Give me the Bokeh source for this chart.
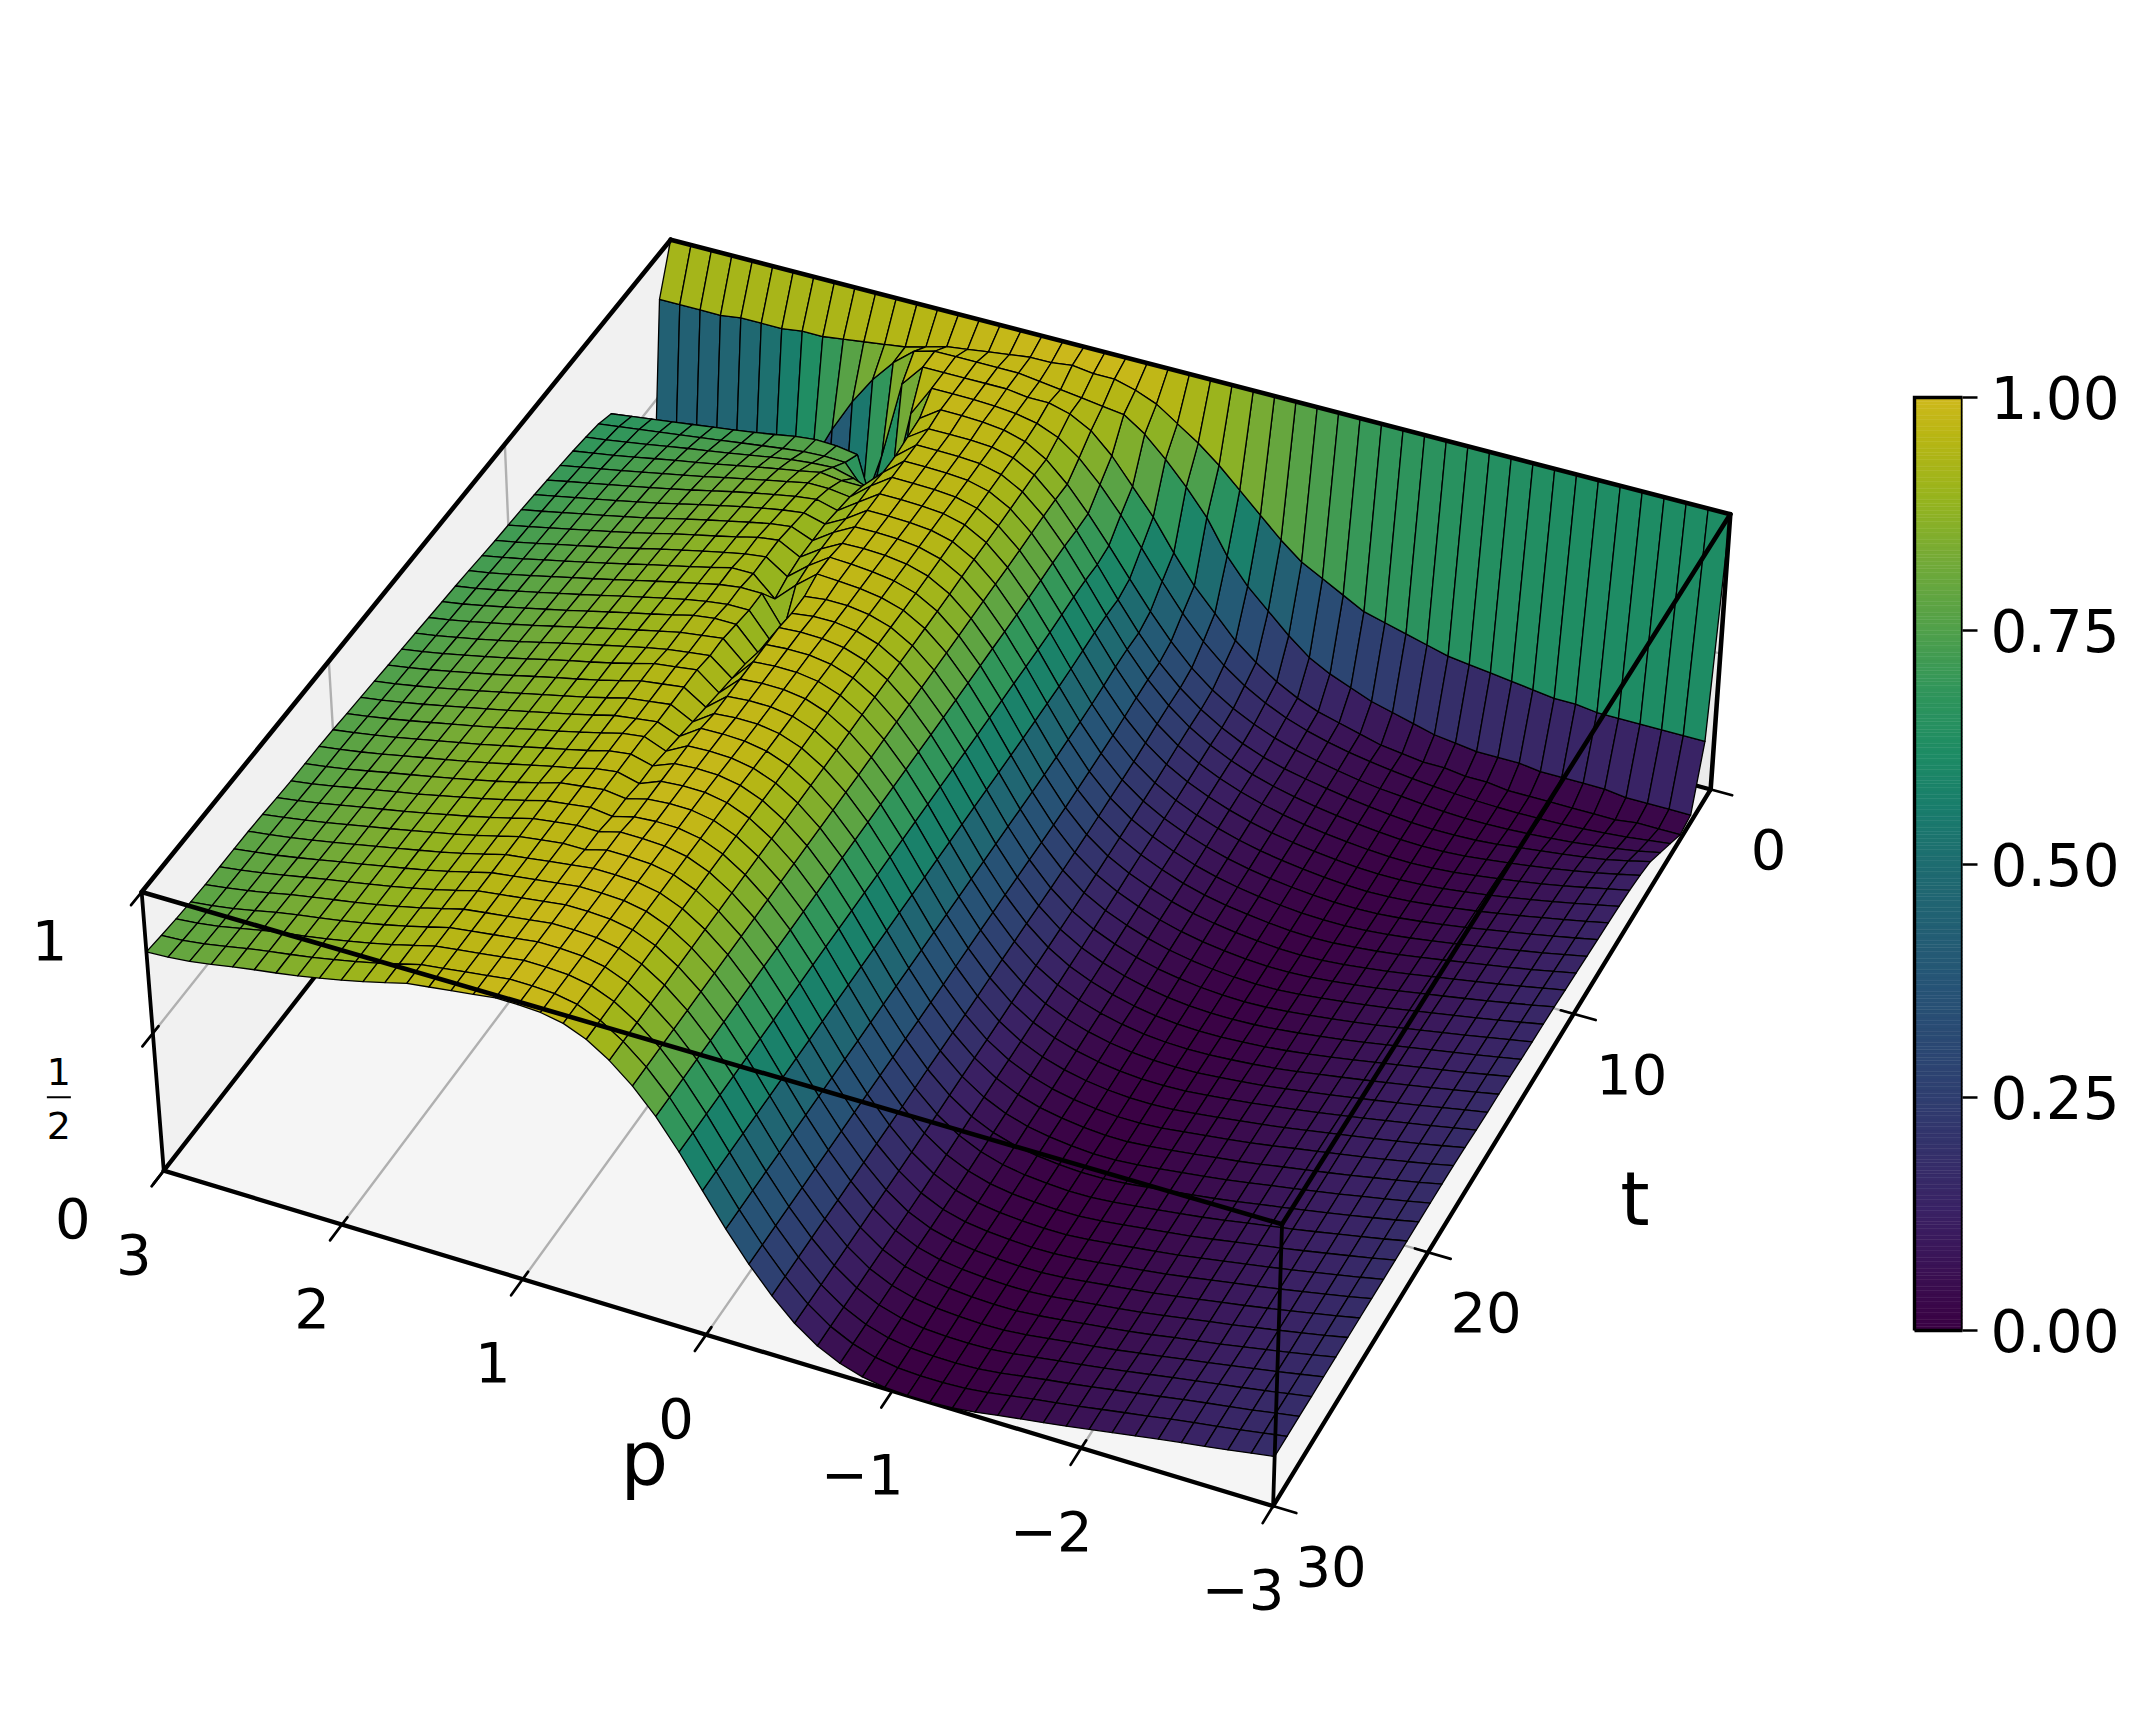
import numpy as np
from bokeh.plotting import figure
from bokeh.models import Range1d, FixedTicker, PrintfTickFormatter, LinearAxis
from bokeh.core.properties import value
from bokeh.embed import file_html
from bokeh.resources import INLINE

# axes
P_TICKS = [3, 2, 1, 0, -1, -2, -3]
P_LABELS = ["3", "2", "1", "0", "\u22121", "\u22122", "\u22123"]
T_TICKS = [0, 10, 20, 30]
Z_TICKS = [1, 0.5, 0]
CB_TICKS = [0, 0.25, 0.5, 0.75, 1]
# probability surface, in hundredths; rows are t, columns run p = 3 ... -3
R3 = [98,98,98,97,97,95,91,84,75,66,55,45,37,29,23,18,14,11,9,7,5,4,3,3,2,2,1,1,1,1,1,1,2,2,2]
R_LATE = [99,99,99,98,95,89,83,75,64,52,40,30,21,13,7,4,2,1,1,0,0,1,2,3,4,5,6,8,9,10,12,13,15,16,18]
R_END = [99,99,99,98,95,89,83,75,64,52,40,30,21,13,7,4,1,0,0,0,0,1,3,4,5,6,8,9,10,12,13,14,15,17,18]
Z_PCT = [
 [100]*51,
 [84,84,84,84,85,85,85,86,86,87,88,89,90,92,94,95,96,97,98,98,99,98,98,96,93,88,83,77,70,63,56,50,46,42,38,36,34,32,30,29,28,27,26,25,25,24,24,24,24,24,24],
 [3,3,4,5,8,14,22,33,46,60,72,82,90,96,98,98,98,98,98,97,96,95,94,93,88,81,73,64,52,43,36,29,23,19,16,13,11,9,7,6,5,5,5,4,4,4,4,3,3,3,3],
 [3,3,3,3,3,4,4,4,5,10,22,40,62,90,98,98]+R3,
 [30,30,31,32,33,34,36,38,40,42,44,46,50,55,87,98]+[98,98,98,97,96,94,88,80,71,61,50,40,32,25,20,16,12,10,8,6,5,4,3,2,2,1,1,1,1,1,2,2,3,4,5],
 [65,66,67,68,69,70,71,72,73,75,76,76,74,50,62,93]+[98,98,98,97,96,92,84,75,66,55,45,36,28,22,18,14,11,9,7,6,4,3,3,2,1,1,1,1,2,2,3,4,5,6,8],
 [67,68,69,70,71,72,73,74,75,76,77,78,77,68,60,92]+[97,97,97,97,96,92,85,75,65,53,43,34,27,21,17,13,10,8,7,5,4,3,2,1,1,1,1,2,3,4,5,6,7,9,11],
 [68,69,70,71,73,74,75,76,78,79,80,81,81,79,76,91]+[97,97,97,97,96,92,85,76,66,54,44,34,27,21,17,13,10,8,6,5,4,3,2,1,1,1,2,3,4,5,6,8,9,11,13],
 [69,70,71,73,74,76,77,78,80,81,83,84,85,84,84,91]+[97,97,97,96,96,91,84,76,65,53,43,33,26,20,16,13,10,8,6,4,3,2,2,1,1,1,2,3,4,5,7,8,10,12,13],
 [69,71,72,73,75,76,78,79,81,83,84,86,87,87,86,92]+[97,97,97,96,96,91,84,75,65,53,42,32,25,19,15,12,9,7,5,4,3,2,1,1,1,2,2,3,5,6,7,9,10,12,14],
 [70,71,73,74,76,77,79,80,82,84,85,87,88,89,87,92]+[97,97,97,96,96,91,84,75,64,52,41,31,24,19,15,12,9,7,5,4,3,2,1,1,1,2,3,4,5,6,8,9,11,12,14],
 [70,72,73,75,76,78,79,81,83,85,86,88,89,90,88,92]+[97,97,97,96,96,91,84,75,64,52,41,31,24,18,14,11,8,6,5,3,2,2,1,1,1,2,3,4,5,7,8,10,11,13,14],
 [71,72,74,75,77,78,80,82,84,85,87,89,90,91,88,93]+[97,97,97,96,96,90,84,75,64,52,41,31,23,18,14,11,8,6,4,3,2,1,1,1,2,2,3,5,6,7,9,10,11,13,15],
 [71,72,74,76,77,79,80,82,84,86,87,89,91,92,88,93]+[97,98,97,96,95,90,84,75,64,52,40,30,23,17,14,11,7,5,4,3,2,1,1,1,2,3,4,5,6,8,9,10,12,13,15],
 [71,73,74,76,78,79,81,83,85,86,88,90,91,92,87,93]+[98,98,97,96,95,90,84,75,64,52,40,30,22,17,13,10,7,5,4,3,2,1,1,1,2,3,4,5,7,8,9,11,12,14,15],
 [72,73,75,76,78,80,81,83,85,87,88,90,92,92,85,92]+[98,98,97,96,95,90,83,75,64,52,40,30,22,16,13,10,7,5,3,2,1,1,1,1,2,3,4,6,7,8,10,11,13,14,16],
 [72,73,75,77,78,80,82,83,85,87,89,90,92,93,93,82]+[96,98,97,96,95,90,83,75,64,52,40,30,22,16,12,9,6,4,3,2,1,1,1,2,3,4,5,6,7,9,10,11,13,14,16],
 [73,74,75,77,79,80,82,84,86,87,89,91,92,93,93,84]+[96,98,97,96,95,90,83,75,64,52,40,30,22,15,12,9,6,4,3,2,1,1,1,2,3,4,5,6,8,9,10,12,13,15,16],
 [73,74,76,77,79,81,82,84,86,88,89,91,93,94,94,86]+[97,98,98,97,95,90,83,75,64,52,40,30,22,15,11,8,5,4,2,1,1,1,1,2,3,4,5,6,8,9,11,12,13,15,16],
 [73,74,76,78,79,81,83,84,86,88,90,91,93,94,95,88]+[97,98,98,97,95,90,83,75,64,52,40,30,22,15,11,8,5,3,2,1,1,1,2,2,3,4,5,7,8,9,11,12,14,15,17],
 [74,75,76,78,79,81,83,85,87,88,90,92,93,94,95,89]+[97,98,98,97,95,90,83,75,64,52,40,30,22,15,10,8,5,3,2,1,1,1,2,2,3,4,6,7,8,10,11,12,14,15,17],
 [74,75,77,78,80,81,83,85,87,88,90,92,94,95,96,90]+[97,98,98,97,95,89,83,75,64,52,40,30,22,14,10,7,4,3,2,1,1,1,2,3,3,5,6,7,8,10,11,13,14,16,17],
 [74,75,77,78,80,82,83,85,87,88,90,92,94,95,96,91]+[97,98,98,97,95,89,83,75,64,52,40,30,22,14,10,7,4,3,1,1,1,1,2,3,4,5,6,7,9,10,11,13,14,16,17],
 [75,76,77,79,80,82,83,85,87,88,90,92,94,95,96,92]+[97,98,98,97,95,89,83,75,64,52,40,30,21,14,9,6,4,2,1,1,0,1,2,3,4,5,6,8,9,10,12,13,14,16,18],
 [75,76,77,79,80,82,84,85,87,89,90,92,94,95,96,93]+[98,99,98,97,95,89,83,75,64,52,40,30,21,14,9,6,3,2,1,0,0,1,2,3,4,5,6,8,9,10,12,13,15,16,18],
 [75,76,78,79,81,82,84,85,87,89,90,92,94,96,97,94]+[98,99,98,97,95,89,83,75,64,52,40,30,21,14,9,6,3,2,1,0,0,1,2,3,4,5,6,8,9,10,12,13,15,16,18],
 [76,77,78,79,81,82,84,85,87,89,91,92,94,96,97,95]+[98,99,99,98,95,89,83,75,64,52,40,30,21,14,9,5,3,2,1,0,0,1,2,3,4,5,6,8,9,10,12,13,15,16,18],
 [76,77,78,80,81,83,84,86,87,89,91,92,94,96,97,95]+[98,99,99,98,95,89,83,75,64,52,40,30,21,14,8,5,3,1,1,0,0,1,2,3,4,5,6,8,9,10,12,13,15,16,18],
 [76,77,78,80,81,83,84,86,87,89,91,93,95,96,97,96]+[98,99,99,98,95,89,83,75,64,52,40,30,21,13,8,5,2,1,1,0,0,1,2,3,4,5,6,8,9,10,12,13,15,16,18],
 [76,77,78,80,82,83,84,86,88,89,91,93,95,96,97,96]+[98,99,99,98,95,89,83,75,64,52,40,30,21,13,8,5,2,1,1,0,0,1,2,3,4,5,6,8,9,10,12,13,15,16,18],
 [76,77,79,80,82,83,84,86,88,89,91,93,95,96,97,97]+R_LATE,
 [77,78,79,80,82,83,85,86,88,89,91,93,95,96,97,97]+R_LATE,
 [77,78,79,80,82,83,85,86,88,89,91,93,95,96,97,98]+R_LATE,
 [77,78,79,80,82,83,85,86,88,89,91,93,95,96,97,98]+R_LATE,
 [77,78,79,81,82,84,85,86,88,89,91,93,95,96,97,98]+R_LATE,
 [77,78,79,81,82,84,85,86,88,89,91,93,95,96,97,98]+R_LATE,
 [77,78,79,81,83,84,85,86,88,89,91,93,95,96,97,98]+R_END,
 [78,78,79,81,83,84,85,86,88,89,91,93,95,96,97,98]+R_END,
 [78,78,80,81,83,84,85,86,88,89,91,93,95,96,97,98]+R_END,
 [79,79,80,81,83,84,85,86,88,89,91,93,95,96,97,98]+R_END,
]
bad = [(i, len(r)) for i, r in enumerate(Z_PCT) if len(r) != 51]
if bad or len(Z_PCT) != 40:
    raise SystemExit(f"{len(Z_PCT)} {bad}")
Z = np.array(Z_PCT, float) / 100.0
P_GRID = np.linspace(3, -3, 51)
T_GRID = np.linspace(0, 30, 40)

# whole-hundredth readings leave steps of about 3 px: ease them, away from the crease at columns 12-16
KEEP = np.zeros(51, bool); KEEP[12:17] = True
for _ in range(2):
    S = Z.copy()
    S[7:39][:, ~KEEP] = (Z[6:38] + 2 * Z[7:39] + Z[8:40])[:, ~KEEP] / 4
    Z = S
    S = Z.copy()
    cols_in = np.where(~KEEP[1:-1])[0] + 1
    for a in range(4, 40):
        S[a, cols_in] = (Z[a, cols_in - 1] + 2 * Z[a, cols_in] + Z[a, cols_in + 1]) / 4
    Z = S

# colour scale of the reference: stops and their colours
STOP_Z = [0, 0.125, 0.25, 0.375, 0.5, 0.56, 0.62, 0.69, 0.75, 0.825, 0.89, 0.96, 1]
STOP_RGB = [(58,0,66),(58,33,100),(47,62,112),(38,85,118),(30,108,112),(25,125,108),(30,140,100),(50,150,90),
            (80,160,75),(115,170,55),(150,180,30),(185,182,20),(207,185,28)]

def colour(v):
    rgb = [int(round(np.interp(v, STOP_Z, [c[k] for c in STOP_RGB]))) for k in range(3)]
    return "#%02x%02x%02x" % tuple(rgb)

# camera of the 3-D view (p, t, z, 1) -> page pixels
CAMERA = np.array([[-164.09807295830709, -17.9533828163124, -24.182023913638933, 1183.3653586295768],
                   [-42.07911148239555, 19.07225643370301, -282.5594225912106, 646.8016071819349],
                   [0.006724371518852972, -0.0028778177666115216, -0.025099727905157784, 1.0]])

def proj(a, b, c):
    q = CAMERA @ np.array([a, b, c, 1.0])
    return q[0] / q[2], q[1] / q[2], q[2]

OFF = 0
FRAME_R, PAGE_R, PAGE_B = 1962, 2140, 1716
CB_TOP, CB_BOT, CB_LEFT = 397, 1330, 1914
FONT = value("DejaVu Sans")
cb_per_px = 1.0 / (CB_BOT - CB_TOP)
p = figure(width=PAGE_R - OFF, height=PAGE_B - OFF, x_range=Range1d(OFF, FRAME_R), y_range=Range1d(PAGE_B, OFF),
           output_backend="svg", toolbar_location=None, min_border=0, min_border_right=PAGE_R - FRAME_R,
           x_axis_location=None, y_axis_location=None, outline_line_color=None)
p.grid.visible = False
p.extra_y_ranges = {"cb": Range1d(start=(CB_BOT - PAGE_B) * cb_per_px, end=(CB_BOT - OFF) * cb_per_px)}

def face(corners, col):
    pts = [proj(*c) for c in corners]
    p.patch([q[0] for q in pts], [q[1] for q in pts], fill_color=col, line_color=None)

def seg(segments, col, width):
    xs, ys = [], []
    for a, b in segments:
        A, B = proj(*a), proj(*b)
        xs.append([A[0], B[0]]); ys.append([A[1], B[1]])
    p.multi_line(xs, ys, line_color=col, line_width=width, line_cap="round")

# panes
face([(3,0,0),(-3,0,0),(-3,30,0),(3,30,0)], "#f5f5f5")
face([(3,0,0),(3,30,0),(3,30,1),(3,0,1)], "#f1f1f1")
face([(3,0,0),(-3,0,0),(-3,0,1),(3,0,1)], "#ebebeb")
# grid lines
grid = [((v,0,0),(v,30,0)) for v in P_TICKS[1:-1]] + [((-3,v,0),(3,v,0)) for v in T_TICKS[1:-1]]
grid += [((3,v,0),(3,v,1)) for v in T_TICKS[1:-1]] + [((3,0,0.5),(3,30,0.5)), ((3,0,0.5),(-3,0,0.5))]
grid += [((v,0,0),(v,0,1)) for v in P_TICKS[1:-1]]
seg(grid, "#b0b0b0", 2.4)
# box edges behind the surface
seg([((3,30,0),(-3,30,0)), ((-3,30,0),(-3,0,0)), ((3,30,0),(3,0,0)), ((3,0,0),(-3,0,0)), ((3,0,0),(3,0,1))], "black", 4.3)
# ticks
ticks = [((v,29.7,0),(v,30.65,0)) for v in P_TICKS]
ticks += [((-2.93,v,0),(-3.12,v,0)) for v in T_TICKS]
ticks += [((3,29.7,v),(3,30.55,v)) for v in Z_TICKS]
seg(ticks, "black", 2.7)

# surface cells, far ones first
cells = []
for i in range(len(T_GRID) - 1):
    for j in range(len(P_GRID) - 1):
        corners = [(i,j),(i,j+1),(i+1,j+1),(i+1,j)]
        pts = [proj(P_GRID[b], T_GRID[a], Z[a,b]) for a, b in corners]
        cells.append((np.mean([q[2] for q in pts]), [q[0] for q in pts], [q[1] for q in pts],
                      colour(np.mean([Z[a,b] for a, b in corners]))))
cells.sort(key=lambda c: -c[0])
p.patches([c[1] for c in cells], [c[2] for c in cells], fill_color=[c[3] for c in cells],
          line_color="black", line_width=1.3, line_join="round")

# box edges in front of the surface
seg([((3,0,1),(-3,0,1)), ((3,0,1),(3,30,1)), ((-3,0,1),(-3,0,0))], "black", 4.6)
seg([((3,30,1),(-3,30,1)), ((-3,30,1),(-3,0,1))], "black", 4.6)
seg([((-3,30,1),(-3,30,0)), ((3,30,1),(3,30,0))], "black", 3.8)

def label(x, y, s, size="55px"):
    p.text([x], [y], text=[s], text_font=FONT, text_font_size=size, text_color="black",
           text_align="center", text_baseline="middle")

for v, s in zip(P_TICKS, P_LABELS):
    a = proj(v, 30, 0); label(a[0] - 30, a[1] + 83, s, "56px")
for v in T_TICKS:
    a = proj(-3, v, 0); label(a[0] + 58, a[1] + 60, str(v), "56px")
a = proj(3, 30, 1); label(a[0] - 92, a[1] + 48, "1", "56px")
a = proj(3, 30, 0); label(a[0] - 91, a[1] + 47, "0", "56px")
a = proj(3, 30, 0.5)
label(a[0] - 94, a[1] + 38, "1", "38px")
label(a[0] - 94, a[1] + 92, "2", "38px")
p.line([a[0] - 106, a[0] - 82], [a[1] + 64, a[1] + 64], line_color="black", line_width=2)
a = proj(0, 30, 0); label(a[0] - 62, a[1] + 123, "p", "75px")
a = proj(-3, 15, 0); label(a[0] + 133, a[1] + 68, "t", "75px")

# colour bar
lev = np.linspace(0, 1, 257)
cols = [colour((lev[k] + lev[k+1]) / 2) for k in range(256)]
p.quad(left=CB_LEFT, right=FRAME_R, bottom=lev[:-1], top=lev[1:], fill_color=cols, line_color=cols, line_width=0.5,
       y_range_name="cb")
p.line([CB_LEFT, FRAME_R, FRAME_R, CB_LEFT, CB_LEFT], [0, 0, 1, 1, 0], line_color="black", line_width=3.4,
       line_join="miter", y_range_name="cb")
ax = LinearAxis(y_range_name="cb")
ax.ticker = FixedTicker(ticks=CB_TICKS)
ax.formatter = PrintfTickFormatter(format="%.2f")
ax.major_label_text_font = "DejaVu Sans"
ax.major_label_text_font_size = "58px"
ax.major_label_text_color = "black"
ax.major_label_standoff = 13
ax.major_tick_out = 15
ax.major_tick_in = 0
ax.major_tick_line_width = 2.7
ax.major_tick_line_color = "black"
ax.minor_tick_line_color = None
ax.axis_line_color = None
p.add_layout(ax, "right")

open("out.html", "w").write(file_html(p, INLINE))
